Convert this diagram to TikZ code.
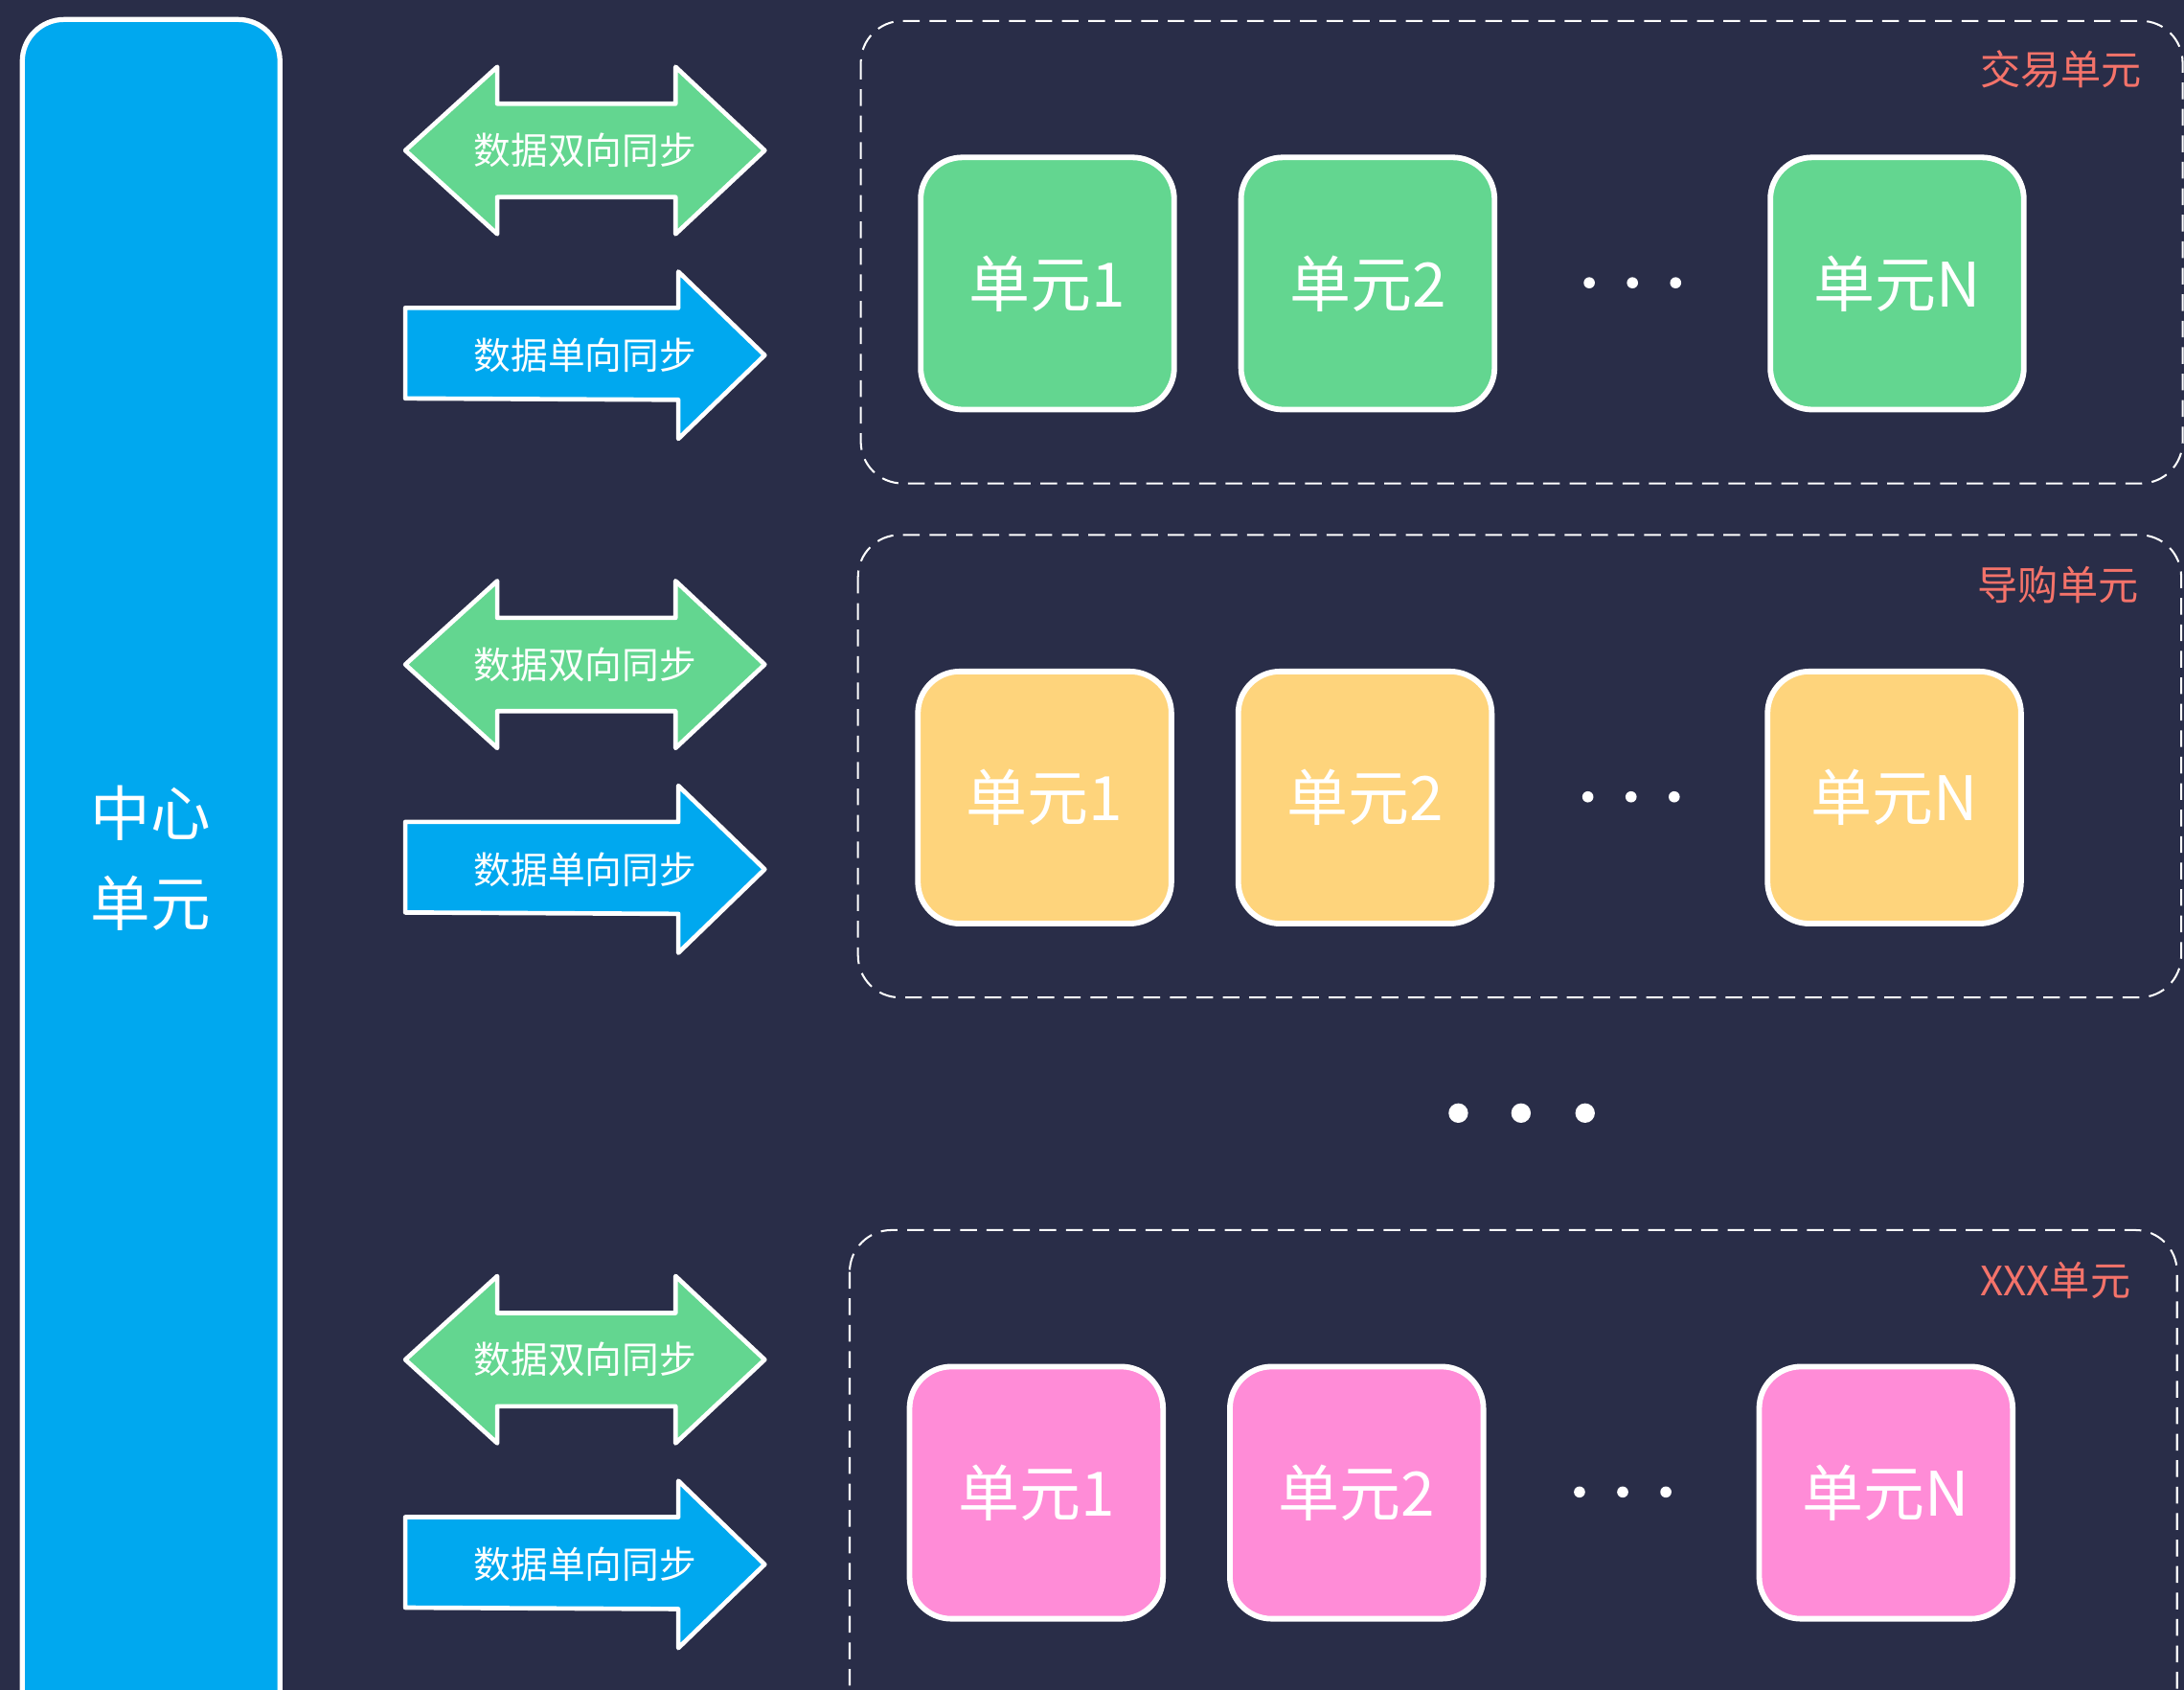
\documentclass[tikz,border=0pt]{standalone}
\usepackage{fontspec}
\setmainfont{Noto Sans CJK SC}
\definecolor{bg}{HTML}{292D48}
\definecolor{cblue}{HTML}{00A8EF}
\definecolor{cgreen}{HTML}{63D690}
\definecolor{cyellow}{HTML}{FED47C}
\definecolor{cpink}{HTML}{FF8CD7}
\definecolor{clabel}{HTML}{F4736A}
\tikzset{
  unitbox/.style={draw=white, line width=2pt, rounded corners=15pt, minimum width=91pt, minimum height=90.5pt, text=white, font=\fontsize{22}{24}\selectfont, inner sep=0pt},
  arrowshape/.style={draw=white, line width=1.6pt, line join=round},
  arrowtext/.style={text=white, font=\fontsize{13.3}{15}\selectfont, inner sep=0pt},
  grouplabel/.style={text=clabel, font=\fontsize{14.5}{16}\selectfont, anchor=east, inner sep=0pt},
  groupbox/.style={draw=white, dash pattern=on 6pt off 3.5pt, line width=0.7pt, rounded corners=15pt},
  smalldot/.style={fill=white, draw=none, circle, minimum size=4pt, inner sep=0pt},
  bigdot/.style={fill=white, draw=none, circle, minimum size=7pt, inner sep=0pt},
}
\begin{document}
\begin{tikzpicture}[x=0.5pt,y=-0.5pt]
\useasboundingbox (0,0) rectangle (1568,1213);
\clip (0,0) rectangle (1568,1213);
\fill[bg] (0,0) rectangle (1568,1213);
% central bar
\draw[draw=white, line width=1.8pt, fill=cblue, rounded corners=15pt] (16,14) rectangle (201,1260);
\node[text=white, font=\fontsize{21.5}{32}\selectfont, align=center] (center) at (108,616) {中心\\单元};
% sync arrows
\foreach \c/\n in {108/a,477/b,976/c}{
  \pgfmathsetmacro{\d}{\c+147}
  \draw[arrowshape, fill=cgreen] (291,\c) -- (357,\c-60) -- (357,\c-33.5) -- (485,\c-33.5) -- (485,\c-60) -- (549,\c) -- (485,\c+60) -- (485,\c+33.5) -- (357,\c+33.5) -- (357,\c+60) -- cycle;
  \node[arrowtext] (dbl\n) at (420,\c) {数据双向同步};
  \draw[arrowshape, fill=cblue] (291,\d-34) -- (487,\d-34) -- (487,\d-60) -- (549,\d) -- (487,\d+60) -- (487,\d+32) -- (291,\d+31) -- cycle;
  \node[arrowtext] (sgl\n) at (420,\d) {数据单向同步};
}
% group boxes
\draw[groupbox] (618,15) rectangle (1567,347);
\node[grouplabel] (lab1) at (1538,50) {交易单元};
\draw[groupbox] (616,384) rectangle (1566,716);
\node[grouplabel] (lab2) at (1536,420) {导购单元};
\draw[groupbox] (610,883) rectangle (1563,1245);
\node[grouplabel] (lab3) at (1530,919) {XXX单元};
% row 1
\node[unitbox, fill=cgreen] (r1a) at (752,203.5) {单元1};
\node[unitbox, fill=cgreen] (r1b) at (982,203.5) {单元2};
\node[unitbox, fill=cgreen] (r1n) at (1362,203.5) {单元N};
\foreach \x in {1141,1172,1203} \node[smalldot] at (\x,203) {};
% row 2
\node[unitbox, fill=cyellow] (r2a) at (750,572.5) {单元1};
\node[unitbox, fill=cyellow] (r2b) at (980,572.5) {单元2};
\node[unitbox, fill=cyellow] (r2n) at (1360,572.5) {单元N};
\foreach \x in {1140,1171,1202} \node[smalldot] at (\x,572) {};
% row 3
\node[unitbox, fill=cpink] (r3a) at (744,1071.5) {单元1};
\node[unitbox, fill=cpink] (r3b) at (974,1071.5) {单元2};
\node[unitbox, fill=cpink] (r3n) at (1354,1071.5) {单元N};
\foreach \x in {1134,1165,1196} \node[smalldot] at (\x,1071) {};
% big dots
\foreach \x in {1047,1092,1138} \node[bigdot] at (\x,799) {};
\end{tikzpicture}
\end{document}
